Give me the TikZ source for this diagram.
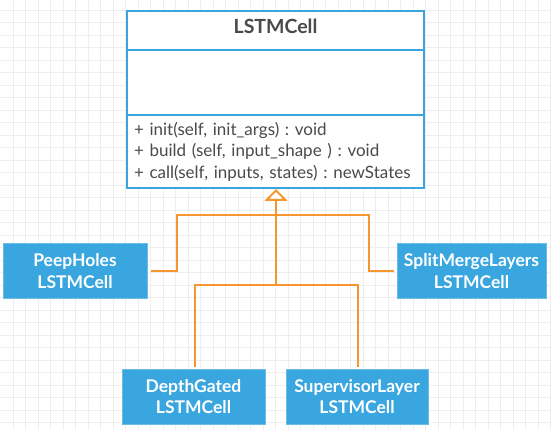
\documentclass[tikz,border=0pt]{standalone}
\usepackage{fontspec}
\setmainfont{Lato}
\usetikzlibrary{positioning,arrows.meta}
\definecolor{cellblue}{HTML}{3AA6E0}
\definecolor{umlblue}{HTML}{3BA3DF}
\definecolor{linkorange}{HTML}{F7962E}
\definecolor{textgray}{HTML}{4A4A4A}
\definecolor{gridgray}{HTML}{EEEEEE}
\frenchspacing

\begin{document}
\begin{tikzpicture}[x=1pt, y=-1pt,
gridline/.style={draw=gridgray, line width=0.8pt},
umlpart/.style={rectangle, draw=umlblue, fill=white, line width=2pt, outer sep=0pt, inner sep=0pt, minimum width=297pt, text=textgray},
classbox/.style={rectangle, fill=cellblue, draw=cellblue!75!white, line width=1pt, text=white, align=center, font=\bfseries\fontsize{17.5}{21.5}\selectfont, minimum width=143pt, minimum height=55pt, inner sep=0pt},
inherit/.style={draw=linkorange, line width=2pt},
]
\useasboundingbox (0,0) rectangle (551,430);
%Grid
\foreach \gx in {0,...,43} \draw[gridline] (13.3+12.5*\gx,0) -- (13.3+12.5*\gx,430);
\foreach \gy in {0,...,33} \draw[gridline] (0,10+12.5*\gy) -- (551,10+12.5*\gy);

%Nodes
\node[umlpart, minimum height=39pt, text depth=8pt, font=\bfseries\fontsize{19.5}{22}\selectfont] (title) at (275.5,30.5) {LSTMCell};
\node[umlpart, minimum height=65pt] (attrs) [below=0pt of title] {};
\node[umlpart, minimum height=73pt, text width=283pt, inner xsep=7pt, align=left, font=\fontsize{17}{21.5}\selectfont] (methods) [below=0pt of attrs] {+ init(self, init\_args) : void\\+ build (self, input\_shape ) : void\\+ call(self, inputs, states) : newStates};
\node[classbox, minimum width=144pt] (peep) at (75,271) {PeepHoles\\LSTMCell};
\node[classbox, minimum width=149pt] (merge) at (471.5,271) {SplitMergeLayers\\LSTMCell};
\node[classbox] (depth) at (193.5,396.5) {DepthGated\\LSTMCell};
\node[classbox, minimum width=142pt] (super) [right=20pt of depth] {SupervisorLayer\\LSTMCell};
\coordinate (split) at (276,215);
\coordinate (fork) at (276,285);

%Lines
\draw[inherit, shorten <=3pt] (peep.east) -- ++(29,0) |- (split);
\draw[inherit, shorten <=3pt] (merge.west) -- ++(-28,0) |- (split);
\draw[inherit, shorten <=2pt] ([xshift=1.5pt]depth.north) |- (fork);
\draw[inherit, shorten <=2pt] ([xshift=1pt]super.north) |- (fork);
\draw[inherit, -{Triangle[open, fill=white, length=12pt, width=23pt]}, shorten >=1pt] (fork) -- (methods.south -| fork);

\end{tikzpicture}
\end{document}
